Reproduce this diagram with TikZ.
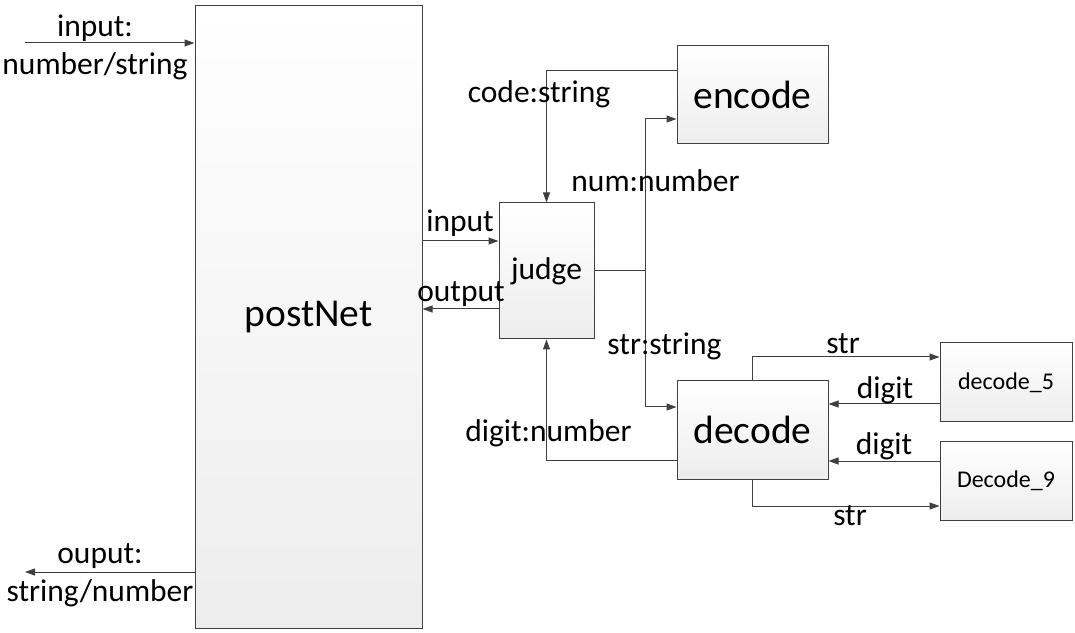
\documentclass[tikz,border=0pt]{standalone}
\usepackage{fontspec}
\setmainfont{Carlito}
\usetikzlibrary{arrows.meta, positioning, calc}
\tikzset{
    block/.style={
        rectangle,
        draw=black!75,
        line width=1pt,
        top color=white,
        bottom color=gray!14,
        font=\fontsize{39.5}{46}\selectfont
    },
    smallblock/.style={
        block,
        minimum width=132pt,
        minimum height=79pt,
        font=\fontsize{24}{29}\selectfont
    },
    wire/.style={
        draw=black!75,
        line width=1pt,
        -{Triangle[length=10pt,width=7pt]}
    },
    plainwire/.style={
        draw=black!75,
        line width=1pt
    },
    lbl/.style={
        font=\fontsize{31.5}{38}\selectfont,
        inner sep=0pt,
        anchor=base
    },
    sidelbl/.style={
        font=\fontsize{31.5}{38}\selectfont,
        inner sep=0pt,
        align=center
    }
}
\begin{document}
\begin{tikzpicture}[x=1pt,y=1pt]
\useasboundingbox (0,0) rectangle (1075,632);

\node[block, minimum width=227pt, minimum height=622pt] (postnet) at (308.5,315) {postNet};
\node[block, minimum width=95pt, minimum height=136pt, font=\fontsize{31.5}{38}\selectfont] (judge) at (546.5,361) {judge};
\node[block, minimum width=151pt, minimum height=98pt] (encode) at (752.5,537) {encode};
\node[block, minimum width=151pt, minimum height=98pt] (decode) at (752.5,202) {decode};
\node[smallblock] (dfive) at (1006,249.5) {decode\_5};
\node[smallblock] (dnine) at (1006,151.5) {Decode\_9};

% outer input / output
\coordinate (insrc) at (25,589);
\coordinate (outdst) at (25,60);
\draw[wire] (insrc) -- (insrc -| postnet.west);
\draw[wire] (outdst -| postnet.west) -- (outdst);
\node[sidelbl] (inlbl) at (95,585) {input:\\number/string};
\node[sidelbl] (outlbl) at (100,57) {ouput:\\string/number};

% postNet <-> judge
\coordinate (jin) at ([yshift=30pt]judge.west);
\coordinate (jout) at ([yshift=-38pt]judge.west);
\draw[wire] (jin -| postnet.east) -- (jin);
\draw[wire] (jout) -- (jout -| postnet.east);
\node[lbl] (jinlbl) at (460,400.5) {input};
\node[lbl] (joutlbl) at (461,330) {output};

% judge <-> encode / decode
\coordinate (split) at (645,361);
\coordinate (ecode) at ([yshift=-25pt]encode.north west);
\coordinate (enum) at ([yshift=-24pt]encode.west);
\coordinate (dstr) at ([yshift=23pt]decode.west);
\coordinate (ddig) at ([yshift=-30pt]decode.west);
\draw[plainwire] (judge.east) -- (split);
\draw[wire] (ecode) -| (judge.north);
\draw[wire] (split) |- (enum);
\draw[wire] (split) |- (dstr);
\draw[wire] (ddig) -| (judge.south);
\node[lbl] (codelbl) at (539,529) {code:string};
\node[lbl] (numlbl) at (655.5,440.5) {num:number};
\node[lbl] (strlbl) at (664.5,277.5) {str:string};
\node[lbl] (diglbl) at (548.5,190.5) {digit:number};

% decode <-> decode_5 / Decode_9
\coordinate (fivestr) at ([yshift=25.5pt]dfive.west);
\coordinate (fivedig) at ([yshift=-21.5pt]dfive.west);
\coordinate (ninedig) at ([yshift=19.5pt]dnine.west);
\coordinate (ninestr) at ([yshift=-25.5pt]dnine.west);
\draw[wire] (decode.north) |- (fivestr);
\draw[wire] (fivedig) -- (fivedig -| decode.east);
\draw[wire] (ninedig) -- (ninedig -| decode.east);
\draw[wire] (decode.south) |- (ninestr);
\node[lbl] (fivestrlbl) at (843,278.5) {str};
\node[lbl] (fivediglbl) at (885,233.5) {digit};
\node[lbl] (niediglbl) at (884,177.5) {digit};
\node[lbl] (ninestrlbl) at (850,106.5) {str};

\end{tikzpicture}
\end{document}
